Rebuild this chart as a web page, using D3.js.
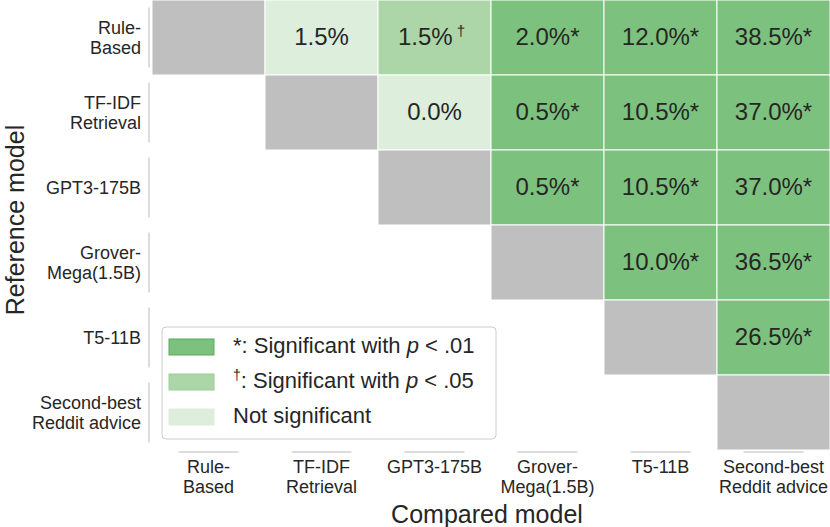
<!DOCTYPE html>
<html lang="en">
<head>
<meta charset="utf-8">
<title>Pairwise comparison</title>
<script src="https://cdn.jsdelivr.net/npm/d3@7"></script>
<style>
  body { margin: 0; background: #fff; }
  text { font-family: "Liberation Sans", Arial, sans-serif; fill: #262626; }
</style>
</head>
<body>
<script>

// models, in order, for both axes
var models = ["Rule-Based", "TF-IDF Retrieval", "GPT3-175B", "Grover-Mega(1.5B)", "T5-11B", "Second-best Reddit advice"];
var modelLines = [["Rule-", "Based"], ["TF-IDF", "Retrieval"], ["GPT3-175B"], ["Grover-", "Mega(1.5B)"], ["T5-11B"], ["Second-best", "Reddit advice"]];

// difference (%) for reference row vs compared column; null = blank, "diag" = same model
var diffs = [
  ["diag", 1.5, 1.5, 2.0, 12.0, 38.5],
  [null, "diag", 0.0, 0.5, 10.5, 37.0],
  [null, null, "diag", 0.5, 10.5, 37.0],
  [null, null, null, "diag", 10.0, 36.5],
  [null, null, null, null, "diag", 26.5],
  [null, null, null, null, null, "diag"]
];

// significance: "s01" = p<.01, "s05" = p<.05, "ns" = not significant
var signif = [
  [null, "ns", "s05", "s01", "s01", "s01"],
  [null, null, "ns", "s01", "s01", "s01"],
  [null, null, null, "s01", "s01", "s01"],
  [null, null, null, null, "s01", "s01"],
  [null, null, null, null, null, "s01"],
  [null, null, null, null, null, null]
];

var legendKeys = ["s01", "s05", "ns"];
var legendLabels = ["*: Significant with ", ": Significant with ", "Not significant"];

var fill = { s01: "#7dc17e", s05: "#acd6a8", ns: "#ddeedd" };
var edge = { s01: "#5aaa5c", s05: "#9ccc98", ns: "#ddeedd" };
var mark = { s01: "*", s05: "\u2020", ns: "" };

var W = 830, H = 527;
var margin = { left: 152, top: 0, right: 0, bottom: 77 };

var svg = d3.select("body").append("svg").attr("width", W).attr("height", H);

var x = d3.scaleBand().domain(models).range([margin.left, W - margin.right]);
var y = d3.scaleBand().domain(models).range([margin.top, H - margin.bottom]);

var cells = [];
diffs.forEach(function(row, i) {
  row.forEach(function(v, j) {
    if (v !== null) cells.push({ r: models[i], c: models[j], v: v, s: signif[i][j] });
  });
});

// axis lines (trimmed seaborn style)
var tickLen = 60;
svg.append("g").selectAll("line").data(models).enter().append("line")
  .attr("x1", 149).attr("x2", 149)
  .attr("y1", function(d) { return y(d) + y.bandwidth() / 2 - tickLen / 2; })
  .attr("y2", function(d) { return y(d) + y.bandwidth() / 2 + tickLen / 2; })
  .attr("stroke", "#dddddd").attr("stroke-width", 2);
svg.append("g").selectAll("line").data(models).enter().append("line")
  .attr("y1", 452).attr("y2", 452)
  .attr("x1", function(d) { return x(d) + x.bandwidth() / 2 - tickLen / 2; })
  .attr("x2", function(d) { return x(d) + x.bandwidth() / 2 + tickLen / 2; })
  .attr("stroke", "#dddddd").attr("stroke-width", 2);

var g = svg.append("g");

g.selectAll("rect").data(cells).enter().append("rect")
  .attr("x", function(d) { return x(d.c); })
  .attr("y", function(d) { return y(d.r); })
  .attr("width", x.bandwidth())
  .attr("height", y.bandwidth())
  .attr("fill", function(d) { return d.v === "diag" ? "#bfbfbf" : fill[d.s]; })
  .attr("stroke", "#fff").attr("stroke-width", 1);

var labels = g.selectAll("text.val").data(cells.filter(function(d) { return d.v !== "diag"; })).enter()
  .append("text").attr("class", "val")
  .attr("x", function(d) { return x(d.c) + x.bandwidth() / 2 - (d.s === "s05" ? 3 : 0); })
  .attr("y", function(d) { return y(d.r) + y.bandwidth() / 2 + 7; })
  .attr("text-anchor", "middle")
  .style("font-size", "24px");
labels.append("tspan").text(function(d) { return d.v.toFixed(1) + "%"; });
labels.append("tspan")
  .attr("dy", function(d) { return d.s === "s05" ? -9 : 0; })
  .attr("dx", function(d) { return d.s === "s05" ? 4 : 0; })
  .style("font-size", function(d) { return d.s === "s05" ? "15px" : "24px"; })
  .text(function(d) { return mark[d.s]; });

// y tick labels
svg.append("g").selectAll("text").data(models).enter().append("text")
  .attr("text-anchor", "end")
  .attr("x", 141)
  .attr("y", function(d, i) {
    var n = modelLines[i].length;
    return y(d) + y.bandwidth() / 2 + 6 - (n - 1) * 10;
  })
  .style("font-size", "18px")
  .each(function(d, i) {
    d3.select(this).selectAll("tspan").data(modelLines[i]).enter().append("tspan")
      .attr("x", 141).attr("dy", function(l, k) { return k ? 20 : 0; })
      .text(function(l) { return l; });
  });

// x tick labels
svg.append("g").selectAll("text").data(models).enter().append("text")
  .attr("text-anchor", "middle")
  .attr("y", 473)
  .style("font-size", "18px")
  .each(function(d, i) {
    d3.select(this).selectAll("tspan").data(modelLines[i]).enter().append("tspan")
      .attr("x", x(d) + x.bandwidth() / 2).attr("dy", function(l, k) { return k ? 20 : 0; })
      .text(function(l) { return l; });
  });

// axis titles
svg.append("text").attr("x", 487).attr("y", 523)
  .attr("text-anchor", "middle").style("font-size", "25px").text("Compared model");
svg.append("text").attr("transform", "translate(24,220) rotate(-90)")
  .attr("text-anchor", "middle").style("font-size", "25px").text("Reference model");

// legend
var lg = svg.append("g").attr("transform", "translate(162,327)");
lg.append("rect").attr("width", 334).attr("height", 112).attr("rx", 4)
  .attr("fill", "#fff").attr("fill-opacity", 0.85).attr("stroke", "#cccccc");
var items = lg.selectAll("g.item").data(legendKeys).enter().append("g")
  .attr("transform", function(d, i) { return "translate(7," + (12 + i * 35) + ")"; });
items.append("rect").attr("width", 45).attr("height", 16)
  .attr("fill", function(d) { return fill[d]; })
  .attr("stroke", function(d) { return edge[d]; });
var lt = items.append("text").attr("x", 64).attr("y", 14).style("font-size", "22px");
lt.each(function(d, i) {
  var t = d3.select(this);
  if (d === "s05") {
    t.append("tspan").attr("dy", -8).style("font-size", "14px").text("\u2020");
    t.append("tspan").attr("dy", 8).text(legendLabels[i]);
  } else {
    t.append("tspan").text(legendLabels[i]);
  }
  if (d !== "ns") {
    t.append("tspan").style("font-style", "italic").text("p");
    t.append("tspan").text(d === "s01" ? " < .01" : " < .05");
  }
});

</script>
</body>
</html>
